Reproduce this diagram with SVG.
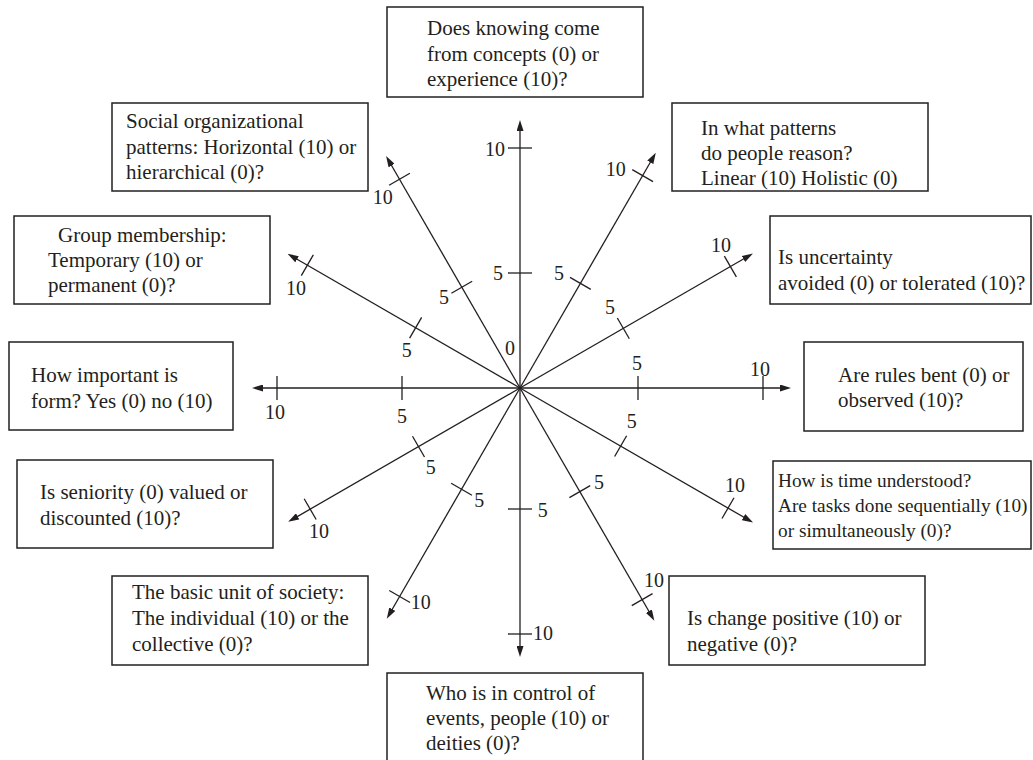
<svg xmlns="http://www.w3.org/2000/svg" width="1033" height="760" viewBox="0 0 1033 760">
  <defs>
    <marker id="arrow" markerUnits="userSpaceOnUse" markerWidth="11" markerHeight="7" refX="7" refY="3.5" orient="auto">
      <path d="M0,0 L11,3.5 L0,7 z" fill="#231f20"/>
    </marker>
  </defs>
  <style>
    .box { fill: #ffffff; stroke: #231f20; stroke-width: 1.5; }
    .q { font-family: "Liberation Serif", "Times New Roman", serif; font-size: 21px; fill: #231f20; }
    .q.small { font-size: 19.3px; }
    .axis { stroke: #231f20; stroke-width: 1.3; fill: none; marker-end: url(#arrow); }
    .tick { stroke: #231f20; stroke-width: 1.3; }
    .num { font-family: "Liberation Serif", "Times New Roman", serif; font-size: 20px; fill: #231f20; text-anchor: middle; }
  </style>
  <rect width="1033" height="760" fill="#ffffff"/>

  <!-- radial scales: one arrow per question, ticks at 5 and 10 -->
  <g id="connectors">
    <g transform="rotate(0 520 388)">
      <line class="axis" x1="520" y1="388" x2="787" y2="388"/>
      <line class="tick" x1="638" y1="376" x2="638" y2="400"/>
      <line class="tick" x1="763" y1="376" x2="763" y2="400"/>
    </g>
    <g transform="rotate(-30 520 388)">
      <line class="axis" x1="520" y1="388" x2="785" y2="388"/>
      <line class="tick" x1="639.3" y1="376" x2="639.3" y2="400"/>
      <line class="tick" x1="762.9" y1="376" x2="762.9" y2="400"/>
    </g>
    <g transform="rotate(-60 520 388)">
      <line class="axis" x1="520" y1="388" x2="787.6" y2="388"/>
      <line class="tick" x1="640.8" y1="376" x2="640.8" y2="400"/>
      <line class="tick" x1="765.3" y1="376" x2="765.3" y2="400"/>
    </g>
    <g transform="rotate(-90 520 388)">
      <line class="axis" x1="520" y1="388" x2="784" y2="388"/>
      <line class="tick" x1="635" y1="376" x2="635" y2="400"/>
      <line class="tick" x1="760" y1="376" x2="760" y2="400"/>
    </g>
    <g transform="rotate(-120 520 388)">
      <line class="axis" x1="520" y1="388" x2="783.8" y2="388"/>
      <line class="tick" x1="636.4" y1="376" x2="636.4" y2="400"/>
      <line class="tick" x1="761" y1="376" x2="761" y2="400"/>
    </g>
    <g transform="rotate(-150 520 388)">
      <line class="axis" x1="520" y1="388" x2="784.4" y2="388"/>
      <line class="tick" x1="640.5" y1="376" x2="640.5" y2="400"/>
      <line class="tick" x1="765.6" y1="376" x2="765.6" y2="400"/>
    </g>
    <g transform="rotate(-180 520 388)">
      <line class="axis" x1="520" y1="388" x2="784" y2="388"/>
      <line class="tick" x1="638" y1="376" x2="638" y2="400"/>
      <line class="tick" x1="763" y1="376" x2="763" y2="400"/>
    </g>
    <g transform="rotate(-210 520 388)">
      <line class="axis" x1="520" y1="388" x2="783.7" y2="388"/>
      <line class="tick" x1="637.2" y1="376" x2="637.2" y2="400"/>
      <line class="tick" x1="762.3" y1="376" x2="762.3" y2="400"/>
    </g>
    <g transform="rotate(-240 520 388)">
      <line class="axis" x1="520" y1="388" x2="782.4" y2="388"/>
      <line class="tick" x1="636.9" y1="376" x2="636.9" y2="400"/>
      <line class="tick" x1="760.7" y1="376" x2="760.7" y2="400"/>
    </g>
    <g transform="rotate(-270 520 388)">
      <line class="axis" x1="520" y1="388" x2="785" y2="388"/>
      <line class="tick" x1="641" y1="376" x2="641" y2="400"/>
      <line class="tick" x1="766" y1="376" x2="766" y2="400"/>
    </g>
    <g transform="rotate(-300 520 388)">
      <line class="axis" x1="520" y1="388" x2="784.7" y2="388"/>
      <line class="tick" x1="639.6" y1="376" x2="639.6" y2="400"/>
      <line class="tick" x1="764.3" y1="376" x2="764.3" y2="400"/>
    </g>
    <g transform="rotate(-330 520 388)">
      <line class="axis" x1="520" y1="388" x2="785.1" y2="388"/>
      <line class="tick" x1="636.2" y1="376" x2="636.2" y2="400"/>
      <line class="tick" x1="760.2" y1="376" x2="760.2" y2="400"/>
    </g>

    <!-- scale numbers -->
    <text class="num" x="510" y="355">0</text>
    <text class="num" x="637" y="370">5</text>
    <text class="num" x="760" y="376">10</text>
    <text class="num" x="610" y="314">5</text>
    <text class="num" x="721" y="252">10</text>
    <text class="num" x="559" y="280">5</text>
    <text class="num" x="615.7" y="176">10</text>
    <text class="num" x="498" y="280">5</text>
    <text class="num" x="495" y="156">10</text>
    <text class="num" x="444" y="304">5</text>
    <text class="num" x="382.7" y="204">10</text>
    <text class="num" x="406.7" y="357">5</text>
    <text class="num" x="296" y="295">10</text>
    <text class="num" x="402" y="423">5</text>
    <text class="num" x="275" y="419">10</text>
    <text class="num" x="430.7" y="474">5</text>
    <text class="num" x="319" y="538">10</text>
    <text class="num" x="479.3" y="507">5</text>
    <text class="num" x="420.7" y="609">10</text>
    <text class="num" x="542.7" y="517">5</text>
    <text class="num" x="543" y="640">10</text>
    <text class="num" x="599" y="489">5</text>
    <text class="num" x="654" y="587">10</text>
    <text class="num" x="631.7" y="428">5</text>
    <text class="num" x="735" y="492">10</text>
  </g>

  <!-- question boxes -->
  <g id="knowing">
    <rect class="box" x="387" y="7" width="256" height="90"/>
    <text class="q" x="427" y="35">Does knowing come</text>
    <text class="q" x="427" y="61">from concepts (0) or</text>
    <text class="q" x="427" y="86">experience (10)?</text>
  </g>
  <g id="reasoning">
    <rect class="box" x="672" y="103" width="256" height="88"/>
    <text class="q" x="701" y="135">In what patterns</text>
    <text class="q" x="701" y="160">do people reason?</text>
    <text class="q" x="701" y="185">Linear (10) Holistic (0)</text>
  </g>
  <g id="uncertainty">
    <rect class="box" x="770" y="216" width="261" height="88"/>
    <text class="q" x="778" y="264">Is uncertainty</text>
    <text class="q" x="778" y="290">avoided (0) or tolerated (10)?</text>
  </g>
  <g id="rules">
    <rect class="box" x="804" y="342" width="219" height="89"/>
    <text class="q" x="838" y="382">Are rules bent (0) or</text>
    <text class="q" x="838" y="407">observed (10)?</text>
  </g>
  <g id="time">
    <rect class="box" x="773" y="461" width="258" height="88"/>
    <text class="q small" x="778" y="487">How is time understood?</text>
    <text class="q small" x="778" y="512">Are tasks done sequentially (10)</text>
    <text class="q small" x="778" y="537">or simultaneously (0)?</text>
  </g>
  <g id="change">
    <rect class="box" x="669" y="576" width="256" height="89"/>
    <text class="q" x="687" y="625">Is change positive (10) or</text>
    <text class="q" x="687" y="651">negative (0)?</text>
  </g>
  <g id="control">
    <rect class="box" x="387" y="673" width="256" height="95"/>
    <text class="q" x="426" y="700">Who is in control of</text>
    <text class="q" x="426" y="725">events, people (10) or</text>
    <text class="q" x="426" y="750">deities (0)?</text>
  </g>
  <g id="society-unit">
    <rect class="box" x="112" y="576" width="256" height="89"/>
    <text class="q" x="132" y="599">The basic unit of society:</text>
    <text class="q" x="132" y="625">The individual (10) or the</text>
    <text class="q" x="132" y="651">collective (0)?</text>
  </g>
  <g id="seniority">
    <rect class="box" x="17" y="460" width="256" height="88"/>
    <text class="q" x="40" y="499">Is seniority (0) valued or</text>
    <text class="q" x="40" y="525">discounted (10)?</text>
  </g>
  <g id="form">
    <rect class="box" x="9" y="342" width="224" height="88"/>
    <text class="q" x="31" y="382">How important is</text>
    <text class="q" x="31" y="408">form? Yes (0) no (10)</text>
  </g>
  <g id="membership">
    <rect class="box" x="14" y="216" width="256" height="88"/>
    <text class="q" x="58" y="242">Group membership:</text>
    <text class="q" x="48" y="267">Temporary (10) or</text>
    <text class="q" x="48" y="292">permanent (0)?</text>
  </g>
  <g id="organization">
    <rect class="box" x="112" y="103" width="256" height="88"/>
    <text class="q" x="126" y="128">Social organizational</text>
    <text class="q" x="126" y="154">patterns: Horizontal (10) or</text>
    <text class="q" x="126" y="179">hierarchical (0)?</text>
  </g>
</svg>
